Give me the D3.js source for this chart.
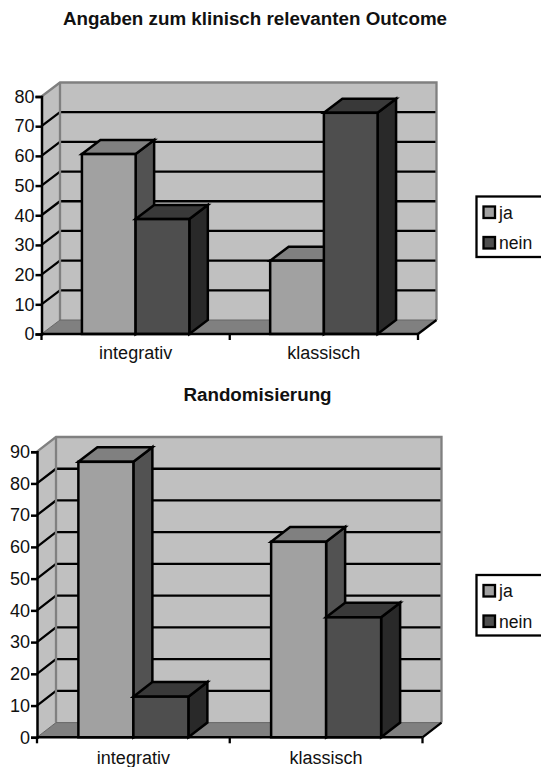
<!DOCTYPE html>
<html><head><meta charset="utf-8">
<script src="https://cdn.jsdelivr.net/npm/d3@7"></script>
<style>html,body{margin:0;padding:0;background:#fff}svg{display:block}text{font-family:"Liberation Sans",Arial,sans-serif;fill:#111}</style>
</head><body><svg id="c" width="541" height="767"></svg>
<script>
const categories = ["integrativ", "klassisch"];
const seriesNames = ["ja", "nein"];
const outcomeJa = [60.6, 24.7];
const outcomeNein = [38.7, 74.5];
const randomJa = [86.8, 61.6];
const randomNein = [12.8, 37.8];
const outcomeTicks = [0,10,20,30,40,50,60,70,80];
const randomTicks = [0,10,20,30,40,50,60,70,80,90];
const titleOutcome = "Angaben zum klinisch relevanten Outcome";
const titleRandom = "Randomisierung";

const svg = d3.select("#c");
const faces = {
  ja: {front:"#a1a1a1", top:"#808080", side:"#525252"},
  nein: {front:"#4e4e4e", top:"#393939", side:"#292929"}
};
const pts = a => a.map(p => p.join(",")).join(" ");

function chart(o){
  const g = svg.append("g");
  const y = d3.scaleLinear().domain([0, o.ticks[o.ticks.length-1]]).range([o.y0, o.y1]);
  const x = d3.scaleBand().domain(categories).range([o.x0, o.x1]);
  const dx = o.dx, dy = o.dy, L = o.x0, R = o.x1, B = o.y0, T = o.y1;
  g.append("polygon").attr("points", pts([[L+dx,T+dy],[R+dx,T+dy],[R+dx,B+dy],[L+dx,B+dy]])).attr("fill","#c0c0c0");
  g.append("polygon").attr("points", pts([[L,T],[L+dx,T+dy],[L+dx,B+dy],[L,B]])).attr("fill","#c0c0c0");
  g.append("polygon").attr("points", pts([[L,B],[L+dx,B+dy],[R+dx,B+dy],[R,B]])).attr("fill","#808080");
  g.selectAll(".gb").data(o.ticks.slice(1,-1)).join("polyline")
    .attr("points", d => pts([[L,y(d)],[L+dx,y(d)+dy],[R+dx,y(d)+dy]]))
    .attr("fill","none").attr("stroke","#000").attr("stroke-width",2.3);
  g.append("polyline").attr("points", pts([[L,T],[L+dx,T+dy],[R+dx,T+dy],[R+dx,B+dy]])).attr("fill","none").attr("stroke","#808080").attr("stroke-width",2.3);
  g.append("line").attr("x1",L+dx).attr("x2",L+dx).attr("y1",T+dy).attr("y2",B+dy).attr("stroke","#808080").attr("stroke-width",2.3);
  g.append("polyline").attr("points", pts([[L,B],[L+dx,B+dy],[R+dx,B+dy]])).attr("fill","none").attr("stroke","#666").attr("stroke-width",1);
  g.append("line").attr("x1",R).attr("y1",B).attr("x2",R+dx).attr("y2",B+dy).attr("stroke","#000").attr("stroke-width",2.3);
  categories.forEach((c,i) => {
    const bw = o.barW;
    const start = x(c) + x.bandwidth()/2 - bw;
    seriesNames.forEach((s,k) => {
      const v = o.series[k][i], f = faces[s];
      const a = start + k*bw, b = a + bw, t = y(v);
      const bg = g.append("g").attr("stroke","#000").attr("stroke-width",2.5).attr("stroke-linejoin","miter");
      bg.append("polygon").attr("points", pts([[b,t],[b+dx,t+dy],[b+dx,B+dy],[b,B]])).attr("fill",f.side);
      bg.append("polygon").attr("points", pts([[a,t],[a+dx,t+dy],[b+dx,t+dy],[b,t]])).attr("fill",f.top);
      bg.append("rect").attr("x",a).attr("y",t).attr("width",bw).attr("height",B-t).attr("fill",f.front);
    });
  });
  const ya = g.append("g").attr("transform",`translate(${L},0)`).call(d3.axisLeft(y).tickValues(o.ticks).tickSize(6).tickPadding(1));
  ya.select(".domain").attr("stroke","#000").attr("stroke-width",2.5);
  ya.selectAll(".tick line").attr("stroke","#000").attr("stroke-width",2.5);
  ya.selectAll("text").attr("font-size",18).attr("font-family","Liberation Sans").attr("fill","#111");
  const xa = g.append("g").attr("transform",`translate(0,${B})`).call(d3.axisBottom(x).tickSize(0).tickPadding(o.labelPad));
  xa.select(".domain").attr("d",`M${L},0H${R}`).attr("stroke","#000").attr("stroke-width",2.5);
  xa.selectAll("text").attr("font-size",18).attr("font-family","Liberation Sans").attr("fill","#111");
  g.selectAll(".xt").data([L,(L+R)/2,R]).join("line").attr("x1",d=>d).attr("x2",d=>d).attr("y1",B).attr("y2",B+6).attr("stroke","#000").attr("stroke-width",2.3);
  g.append("text").attr("x",o.titleX).attr("y",o.titleY).attr("text-anchor","middle").attr("font-weight","bold").attr("font-size",o.titleSize).text(o.title);
  const lg = g.append("g").attr("transform",`translate(476.5,${o.legendY})`);
  lg.append("rect").attr("width",70).attr("height",60.5).attr("fill","#fff").attr("stroke","#000").attr("stroke-width",2.3);
  seriesNames.forEach((s,k) => {
    lg.append("rect").attr("x",7).attr("y",10+k*30.5).attr("width",11.5).attr("height",11.5).attr("fill",faces[s].front).attr("stroke","#000").attr("stroke-width",2.3);
    lg.append("text").attr("x",22.5).attr("y",22+k*30.5).attr("font-size",17.6).text(s);
  });
}
chart({x0:41.5,x1:418,y0:334,y1:96.5,dx:18.5,dy:-14,ticks:outcomeTicks,series:[outcomeJa,outcomeNein],barW:53.7,labelPad:12.5,
  title:titleOutcome,titleX:255,titleY:25,titleSize:18.8,legendY:196.5});
chart({x0:37,x1:422.5,y0:737.3,y1:451.7,dx:19,dy:-14.7,ticks:randomTicks,series:[randomJa,randomNein],barW:55,labelPad:13.5,
  title:titleRandom,titleX:257.5,titleY:401,titleSize:18.8,legendY:575});
</script></body></html>
